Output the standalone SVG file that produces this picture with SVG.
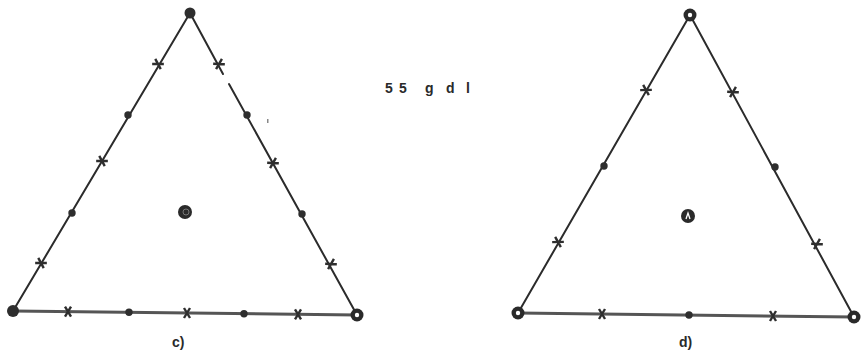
<svg xmlns="http://www.w3.org/2000/svg" width="861" height="361" viewBox="0 0 861 361">
<style>
.edge{stroke:#2b2b2b;stroke-width:2;fill:none;stroke-linecap:round}
.base{stroke:#555;stroke-width:3;fill:none}
.dot{fill:#2e2e2e}
.xm{stroke:#2e2e2e;stroke-width:2.4;fill:none}
.lbl{font-family:"Liberation Sans",Arial,sans-serif;font-size:14px;font-weight:bold;fill:#2a2a2a}
</style>
<defs>
<path id="xmark" class="xm" d="M-3,-5 L3,5 M3,-5 L-3,5"/>
<circle id="sdot" class="dot" r="3.7"/>
<g id="ring"><circle r="6.5" fill="#2a2a2a"/><circle r="2.2" fill="#fff"/></g>
</defs>
<rect width="861" height="361" fill="#fff"/>
<g id="connectors">
<line class="edge" x1="190" y1="13" x2="13" y2="311"/>
<line class="edge" x1="190" y1="13" x2="223" y2="74"/>
<line class="edge" x1="229" y1="84" x2="357" y2="315"/>
<line class="base" x1="13" y1="311" x2="357" y2="315"/>
<line class="edge" x1="690" y1="15" x2="518" y2="313"/>
<line class="edge" x1="690" y1="15" x2="854" y2="317"/>
<line class="base" x1="518" y1="313" x2="854" y2="317"/>
</g>
<g id="triangle-c">
<g id="c-apex"><circle class="dot" cx="190" cy="13" r="5.5"/></g>
<g id="c-left"><circle class="dot" cx="13" cy="311" r="6"/></g>
<g id="c-right"><use href="#ring" x="357" y="315"/></g>
<g id="c-center"><circle cx="185" cy="212" r="7" fill="#2a2a2a"/><circle cx="186" cy="212" r="3" fill="none" stroke="#777" stroke-width="1"/></g>
<g id="c-marks">
<use href="#xmark" transform="translate(41,263) rotate(-59)"/>
<use href="#sdot" x="72" y="213"/>
<use href="#xmark" transform="translate(102,161) rotate(-59)"/>
<use href="#sdot" x="128" y="115"/>
<use href="#xmark" transform="translate(158,64) rotate(-59)"/>
<use href="#xmark" transform="translate(219,64) rotate(61)"/>
<use href="#sdot" x="247" y="115"/>
<use href="#xmark" transform="translate(273,163) rotate(61)"/>
<use href="#sdot" x="302" y="214"/>
<use href="#xmark" transform="translate(331,264) rotate(61)"/>
<use href="#xmark" transform="translate(68,311.6)"/>
<use href="#sdot" x="129" y="312.3"/>
<use href="#xmark" transform="translate(187,313)"/>
<use href="#sdot" x="244" y="313.7"/>
<use href="#xmark" transform="translate(298,314.3)"/>
</g>
<rect x="267" y="119" width="1.5" height="4" fill="#888"/>
<text class="lbl" x="172" y="347" font-weight="normal">c)</text>
</g>
<g id="title">
<text class="lbl" font-size="15" x="385 399 412 425 437 446 458 466" y="93">55 g d l</text>
</g>
<g id="triangle-d">
<g id="d-apex"><use href="#ring" x="690" y="15"/></g>
<g id="d-left"><use href="#ring" x="518" y="313"/></g>
<g id="d-right"><use href="#ring" x="854" y="317"/></g>
<g id="d-center"><circle cx="688" cy="216" r="7" fill="#2a2a2a"/><path d="M686,219 L688,213 L690,219" fill="none" stroke="#fff" stroke-width="1.3"/></g>
<g id="d-marks">
<use href="#xmark" transform="translate(558,242) rotate(-60)"/>
<use href="#sdot" x="604" y="166"/>
<use href="#xmark" transform="translate(646,90) rotate(-60)"/>
<use href="#xmark" transform="translate(733,92) rotate(61)"/>
<use href="#sdot" x="775" y="167"/>
<use href="#xmark" transform="translate(817,244) rotate(61)"/>
<use href="#xmark" transform="translate(602,314)"/>
<use href="#sdot" x="689" y="315"/>
<use href="#xmark" transform="translate(773,316)"/>
</g>
<text class="lbl" x="679" y="347" font-weight="normal">d)</text>
</g>
</svg>
